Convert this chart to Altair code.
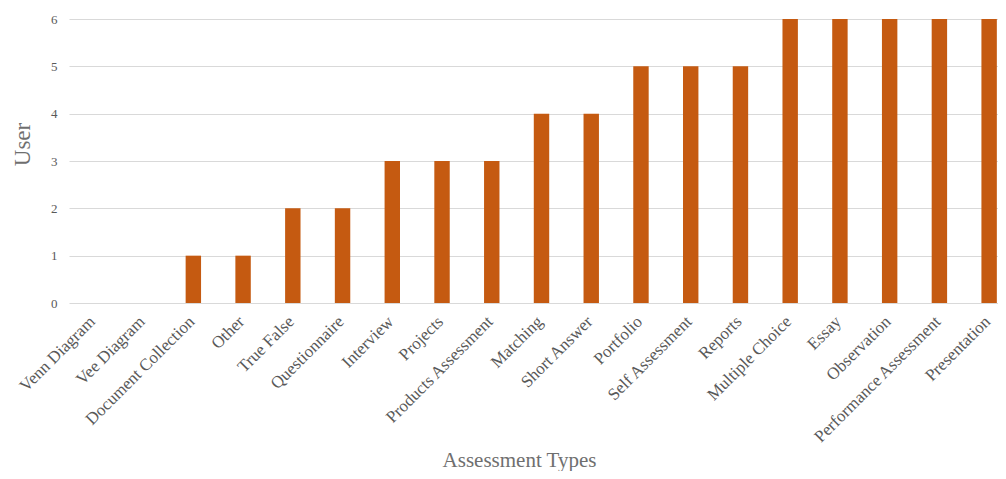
import altair as alt
import pandas as pd

categories = ["Venn Diagram", "Vee Diagram", "Document Collection", "Other", "True False",
              "Questionnaire", "Interview", "Projects", "Products Assessment", "Matching",
              "Short Answer", "Portfolio", "Self Assessment", "Reports", "Multiple Choice",
              "Essay", "Observation", "Performance Assessment", "Presentation"]
users = [0, 0, 1, 1, 2, 2, 3, 3, 3, 4, 4, 5, 5, 5, 6, 6, 6, 6, 6]

df = pd.DataFrame({"cat": categories, "users": users})

font = "Liberation Serif"

chart = alt.Chart(df).mark_bar(color="#C55A11").encode(
    x=alt.X("cat:N", sort=categories,
            scale=alt.Scale(paddingInner=0.69, paddingOuter=0.345, range=[0, 945]),
            axis=alt.Axis(title="Assessment Types", labelAngle=-45, labelFont=font,
                          labelFontSize=17, labelColor="#595959", labelPadding=10,
                          labelOffset=-7,
                          ticks=False, domain=False, labelLimit=300,
                          titleFont=font, titleFontSize=21, titleColor="#6f6f6f",
                          titleFontWeight="normal", titleY=163, titleX=450,
                          titleBaseline="alphabetic")),
    y=alt.Y("users:Q", scale=alt.Scale(domain=[0, 6], nice=False),
            axis=alt.Axis(title="User", values=[0, 1, 2, 3, 4, 5, 6], format="d",
                          labelFont=font, labelFontSize=13, labelColor="#595959",
                          labelPadding=12, ticks=False, domain=False,
                          gridColor="#d9d9d9", gridWidth=1.2,
                          titleFont=font, titleFontSize=23, titleColor="#6f6f6f",
                          titleFontWeight="normal", titleAngle=-90,
                          titleAlign="center", titleBaseline="middle",
                          titleX=-47, titleY=125)),
).properties(
    width=929, height=284,
    autosize=alt.AutoSizeParams(type="none"),
    padding={"left": 61, "top": 11, "right": 0, "bottom": 168},
).configure_view(stroke=None)

chart.save("out.html", embed_options={"renderer": "svg", "actions": False})
